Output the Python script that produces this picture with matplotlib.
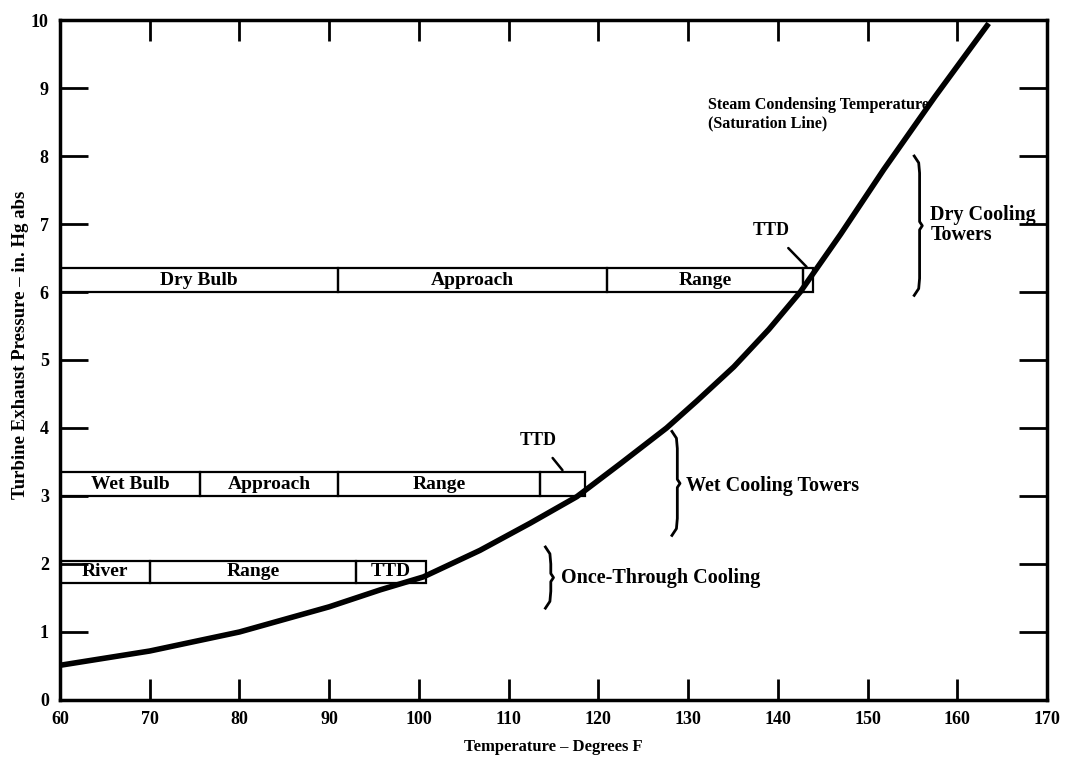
import matplotlib
matplotlib.use("Agg")
import matplotlib.pyplot as plt
from matplotlib.patches import Rectangle

plt.rcParams['font.family'] = ['Liberation Serif', 'DejaVu Serif']
plt.rcParams['font.weight'] = 'bold'

# Saturation line
sat_temp = [60, 70, 80, 90, 95.7, 100.5, 106.8, 112.4, 117.6, 122.5, 127.6, 131, 135.1, 139, 142.5, 147, 151.8, 157.5, 163.5]
sat_pres = [0.51, 0.72, 1.0, 1.37, 1.62, 1.81, 2.2, 2.6, 2.99, 3.48, 4.0, 4.4, 4.9, 5.45, 6.0, 6.85, 7.8, 8.87, 9.95]

# Bars: segment edges (deg F) and labels
dry_edges = [60, 91, 121, 142.8, 143.9]
dry_labels = ["Dry Bulb", "Approach", "Range", ""]
dry_y = (6.0, 6.35)

wet_edges = [60, 75.6, 91, 113.5, 118.5]
wet_labels = ["Wet Bulb", "Approach", "Range", ""]
wet_y = (3.0, 3.35)

once_edges = [60, 70, 93, 100.8]
once_labels = ["River", "Range", "TTD"]
once_y = (1.72, 2.05)

x_ticks = [60, 70, 80, 90, 100, 110, 120, 130, 140, 150, 160, 170]
y_ticks = [0, 1, 2, 3, 4, 5, 6, 7, 8, 9, 10]

fig = plt.figure(figsize=(10.71, 7.64), dpi=100)
ax = fig.add_axes([0.056, 0.0838, 0.9216, 0.89])
ax.set_xlim(60, 170)
ax.set_ylim(0, 10)

ax.plot(sat_temp, sat_pres, color='black', lw=4, solid_capstyle='butt',
        solid_joinstyle='round', zorder=3)

def draw_bar(edges, labels, yr):
    y0, y1 = yr
    for i, lab in enumerate(labels):
        ax.add_patch(Rectangle((edges[i], y0), edges[i+1]-edges[i], y1-y0,
                               fill=False, ec='black', lw=1.6, zorder=2))
        if lab:
            ax.text((edges[i]+edges[i+1])/2, (y0+y1)/2, lab, ha='center', va='center',
                    fontsize=14, fontweight='bold', zorder=4)

draw_bar(dry_edges, dry_labels, dry_y)
draw_bar(wet_edges, wet_labels, wet_y)
draw_bar(once_edges, once_labels, once_y)

def bracket(x, ylo, yhi):
    mid = (ylo + yhi) / 2
    xs = [x-0.6, x-0.1, x, x, x+0.3, x, x, x-0.1, x-0.6]
    ys = [yhi+0.05, yhi-0.05, yhi-0.2, mid+0.06, mid, mid-0.06, ylo+0.2, ylo+0.05, ylo-0.05]
    ax.plot(xs, ys, color='black', lw=2, zorder=3)

bracket(155.8, 6.0, 7.95)
bracket(128.8, 2.47, 3.9)
bracket(114.7, 1.4, 2.2)

ax.text(157.0, 6.98, "Dry Cooling\nTowers", ha='left', va='center', fontsize=14.5,
        fontweight='bold', linespacing=1.0)
ax.text(129.8, 3.15, "Wet Cooling Towers", ha='left', va='center', fontsize=14.5, fontweight='bold')
ax.text(115.8, 1.8, "Once-Through Cooling", ha='left', va='center', fontsize=14.5, fontweight='bold')
ax.text(132.2, 8.62, "Steam Condensing Temperature\n(Saturation Line)", ha='left', va='center',
        fontsize=11.6, fontweight='bold', linespacing=1.2)

ax.annotate("TTD", xy=(143.2, 6.37), xytext=(139.3, 6.9), ha='center', va='center',
            fontsize=13, fontweight='bold',
            arrowprops=dict(arrowstyle='-', lw=1.8, color='black', shrinkA=6, shrinkB=0))
ax.annotate("TTD", xy=(116.0, 3.38), xytext=(113.3, 3.82), ha='center', va='center',
            fontsize=13, fontweight='bold',
            arrowprops=dict(arrowstyle='-', lw=1.8, color='black', shrinkA=6, shrinkB=0))

ax.set_xticks(x_ticks)
ax.set_yticks(y_ticks)
ax.tick_params(direction='in', top=True, right=True, width=2, labelsize=13, pad=8)
ax.tick_params(axis='y', length=20)
ax.tick_params(axis='x', length=15)
for lab in ax.get_xticklabels() + ax.get_yticklabels():
    lab.set_fontweight('bold')
for s in ax.spines.values():
    s.set_linewidth(2.5)

ax.set_xlabel("Temperature – Degrees F", fontsize=12, fontweight='bold', labelpad=8)
ax.set_ylabel("Turbine Exhaust Pressure – in. Hg abs", fontsize=13.5, fontweight='bold')
ax.yaxis.set_label_coords(-0.031, 0.523)

fig.savefig("out.png", dpi=100)
